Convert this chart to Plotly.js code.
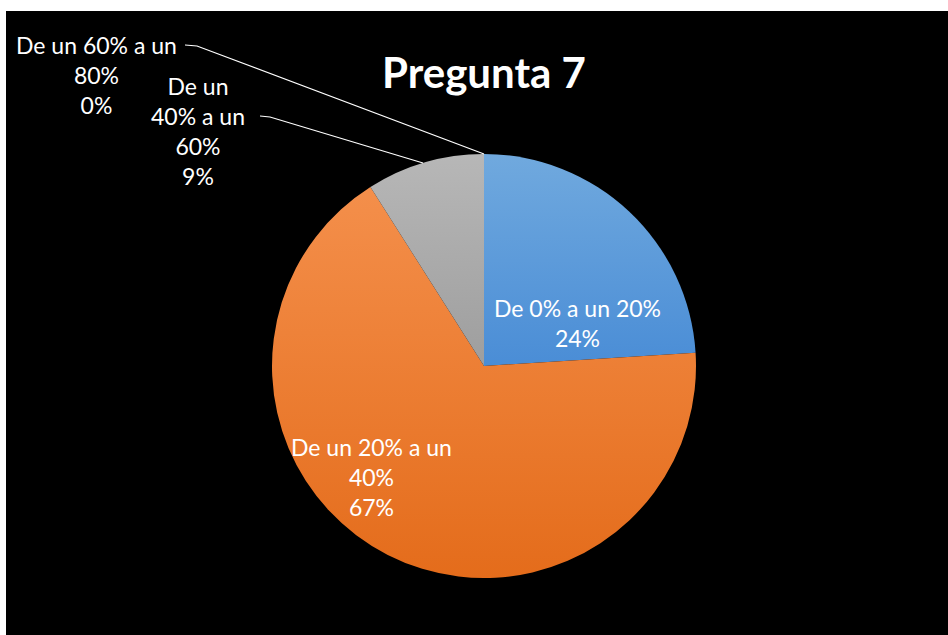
<!DOCTYPE html>
<html>
<head>
<meta charset="utf-8">
<script src="https://cdn.plot.ly/plotly-3.0.1.min.js"></script>
<style>
  html, body { margin: 0; padding: 0; background: #ffffff; }
  #chart { position: absolute; left: 6px; top: 11px; width: 942px; height: 624px; }
</style>
</head>
<body>
<div id="chart"></div>
<script>
// Answer groups for "Pregunta 7" and their share of responses (%)
const categories = [
  "De 0% a un 20%",
  "De un 20% a un 40%",
  "De un 40% a un 60%",
  "De un 60% a un 80%"
];
const shares = [24, 67, 9, 0];
// Category names as wrapped on the chart
const wrappedNames = [
  "De 0% a un 20%",
  "De un 20% a un<br>40%",
  "De un<br>40% a un<br>60%",
  "De un 60% a un<br>80%"
];
const sliceColors = ["#5b9bd5", "#ed7d31", "#a5a5a5", "#ffc000"];
// top -> bottom shading of each slice
const sliceShades = [
  ["#70a9de", "#4a8dd6"],
  ["#f48f4b", "#e46c1b"],
  ["#b7b7b7", "#9e9e9e"],
  ["#ffd050", "#f0b000"]
];

const W = 942, H = 624;
// pixel -> paper helpers
const px = x => x / W;
const py = y => 1 - y / H;

// pie circle: centre (478, 355), radius 212 px
const cx = 478, cy = 355, r = 212;

const trace = {
  type: "pie",
  labels: categories,
  values: shares,
  sort: false,
  direction: "clockwise",
  rotation: 0,
  marker: { colors: sliceColors, line: { width: 0 } },
  textinfo: "none",
  hoverinfo: "label+percent",
  showlegend: false,
  domain: { x: [px(cx - r), px(cx + r)], y: [py(cy + r), py(cy - r)] }
};

const labelFont = { family: "Lato, 'Open Sans', sans-serif", size: 23, color: "#ffffff" };
const labelSpots = [
  { x: 571, y: 312 },
  { x: 365, y: 465.5 },
  { x: 192, y: 120.5 },
  { x: 90, y: 64 }
];
const annotations = categories.map((c, i) => ({
  xref: "paper", yref: "paper",
  x: px(labelSpots[i].x), y: py(labelSpots[i].y),
  xanchor: "center", yanchor: "middle",
  text: wrappedNames[i] + "<br>" + shares[i] + "%",
  showarrow: false,
  align: "center",
  font: labelFont
}));

// leader lines for the two small slices
const leaders = [
  [[254, 105], [264, 106], [417, 152]],
  [[179, 34], [191, 35], [478, 143]]
];
const shapes = leaders.map(pts => ({
  type: "path",
  xref: "paper", yref: "paper",
  path: pts.map((p, k) => (k ? "L" : "M") + px(p[0]) + "," + py(p[1])).join(" "),
  line: { color: "#ffffff", width: 1.2 }
}));

const layout = {
  width: W, height: H,
  margin: { l: 0, r: 0, t: 0, b: 0 },
  paper_bgcolor: "#000000",
  plot_bgcolor: "#000000",
  title: {
    text: "<b>Pregunta 7</b>",
    font: { family: "Lato, 'Open Sans', sans-serif", size: 42, color: "#ffffff" },
    x: px(478), xanchor: "center",
    y: py(62), yanchor: "middle"
  },
  annotations: annotations,
  shapes: shapes
};

Plotly.newPlot("chart", [trace], layout, { displayModeBar: false, staticPlot: true })
  .then(gd => {
    // give every slice a soft vertical shading
    const svgNS = "http://www.w3.org/2000/svg";
    const svg = gd.querySelector("svg.main-svg");
    let defs = svg.querySelector("defs");
    if (!defs) { defs = document.createElementNS(svgNS, "defs"); svg.insertBefore(defs, svg.firstChild); }
    gd.querySelectorAll("g.slice").forEach((g, i) => {
      const path = g.querySelector("path.surface");
      if (!path || !sliceShades[i]) return;
      const grad = document.createElementNS(svgNS, "linearGradient");
      grad.setAttribute("id", "sliceShade" + i);
      grad.setAttribute("x1", "0"); grad.setAttribute("y1", "0");
      grad.setAttribute("x2", "0"); grad.setAttribute("y2", "1");
      sliceShades[i].forEach((col, k) => {
        const stop = document.createElementNS(svgNS, "stop");
        stop.setAttribute("offset", k ? "1" : "0");
        stop.setAttribute("stop-color", col);
        grad.appendChild(stop);
      });
      defs.appendChild(grad);
      path.style.fill = "url(#sliceShade" + i + ")";
    });
  });
</script>
</body>
</html>
